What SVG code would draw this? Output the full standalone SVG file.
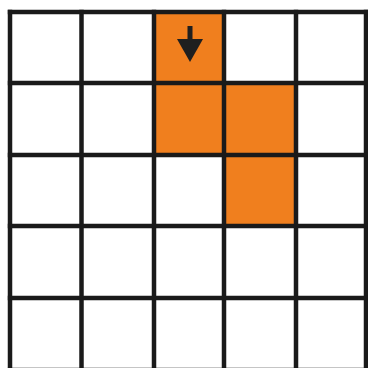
<svg xmlns="http://www.w3.org/2000/svg" width="368" height="368" viewBox="0 0 368 368">
<style>
.on{fill:#F07F1E}
.grid line{stroke:#1a1a1a;stroke-width:4.5}
.arrow{fill:#1f1f1f}
</style>
<rect width="368" height="368" fill="#ffffff"/>
<g id="cells">
<rect id="c-2-0" class="on" x="154" y="12" width="70" height="71"/>
<rect id="c-2-1" class="on" x="154" y="83" width="70" height="72"/>
<rect id="c-3-1" class="on" x="224" y="83" width="72" height="72"/>
<rect id="c-3-2" class="on" x="224" y="155" width="72" height="71"/>
</g>
<g class="grid" id="grid">
<line x1="10" y1="9.8" x2="10" y2="372"/>
<line x1="81.5" y1="9.8" x2="81.5" y2="372"/>
<line x1="154" y1="9.8" x2="154" y2="372"/>
<line x1="224" y1="9.8" x2="224" y2="372"/>
<line x1="296" y1="9.8" x2="296" y2="372"/>
<line x1="366" y1="9.8" x2="366" y2="372"/>
<line x1="7.8" y1="12" x2="368.2" y2="12"/>
<line x1="7.8" y1="83" x2="368.2" y2="83"/>
<line x1="7.8" y1="155" x2="368.2" y2="155"/>
<line x1="7.8" y1="226" x2="368.2" y2="226"/>
<line x1="7.8" y1="298" x2="368.2" y2="298"/>
<line x1="7.8" y1="370" x2="368.2" y2="370"/>
</g>
<g id="arrow" class="arrow">
<rect x="187.5" y="26" width="5" height="14"/>
<polygon points="177,39 203,39 190,62"/>
</g>
</svg>
